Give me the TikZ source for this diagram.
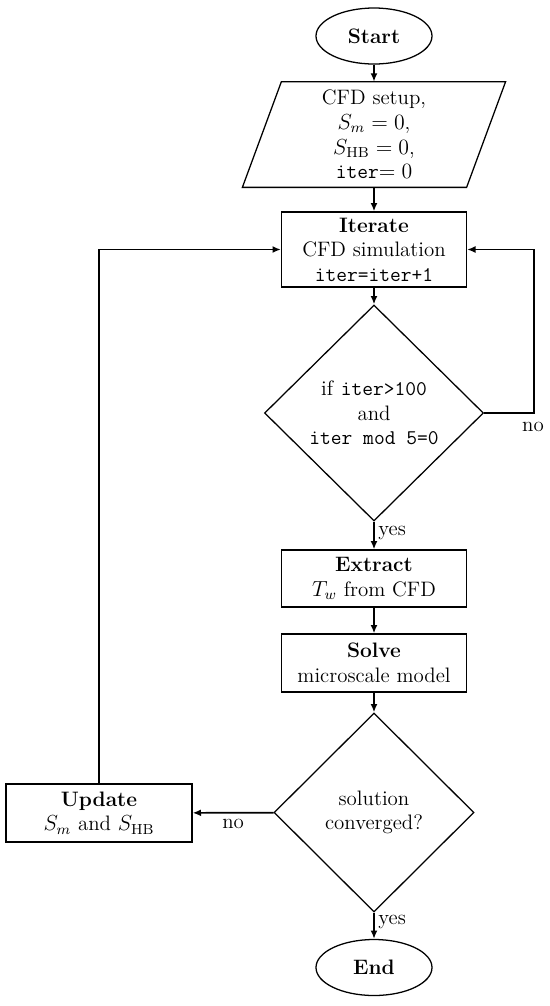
\documentclass[tikz,border=0pt]{standalone}
\usepackage{amsmath,amssymb}
\usepackage{xcolor}
\usepackage{tikz}
\usetikzlibrary{positioning,arrows.meta,shapes.geometric}
\newlength\px
\setlength\px{0.55pt}

\begin{document}
\begin{tikzpicture}[
  x=0.55pt, y=-0.55pt,
  every node/.style={font=\fontsize{11.5}{13.5}\selectfont},
  terminal/.style={draw, ellipse, line width=0.7pt, minimum width=116\px, minimum height=56\px, inner sep=0pt},
  process/.style={draw, rectangle, line width=0.7pt, minimum width=185\px, align=center, inner sep=2pt},
  decision/.style={draw, diamond, line width=0.7pt, align=center, inner sep=0pt},
  flow/.style={-{Latex[length=4.6pt, width=3.8pt]}, line width=0.9pt}
]
\useasboundingbox (0,0) rectangle (550,1006);

\node[terminal] (start) at (374,36) {\textbf{Start}};

\node[minimum width=223.5\px, minimum height=105\px, align=center, inner sep=0pt] (setup) at (374,134.5)
  {CFD setup,\\ $S_m=0$,\\ $S_{\mathrm{HB}}=0$,\\ \texttt{iter}$=0$};
\draw[line width=0.7pt] ([xshift=19.5\px]setup.north west) -- ([xshift=19.5\px]setup.north east)
  -- ([xshift=-19.5\px]setup.south east) -- ([xshift=-19.5\px]setup.south west) -- cycle;

\node[process, minimum height=75\px] (iterate) at (374,249.5)
  {\textbf{Iterate}\\ CFD simulation\\ \texttt{iter=iter+1}};

\node[decision, minimum width=219\px, minimum height=216\px] (check) at (374,413)
  {if \texttt{iter>100}\\ and\\ \texttt{iter mod 5=0}};

\node[process, minimum height=57\px] (extract) at (374,578.5)
  {\textbf{Extract}\\ $T_w$ from CFD};
\node[process, minimum height=58\px] (solve) at (374,663)
  {\textbf{Solve}\\ microscale model};

\node[decision, minimum width=200\px, minimum height=199\px] (conv) at (374,812.5)
  {solution\\ converged?};

\node[process, minimum width=186\px, minimum height=58\px] (update) at (99,813)
  {\textbf{Update}\\ $S_m$ and $S_{\mathrm{HB}}$};

\node[terminal] (end) at (374,967.5) {\textbf{End}};

% connectors
\draw[flow] (start) -- (setup);
\draw[flow] (setup) -- (iterate);
\draw[flow] (iterate) -- (check);
\coordinate (loop) at (534,413);
\draw[flow] (check.east) -- (loop) |- (iterate.east);
\node (nocheck) at (533,427) {no};
\draw[flow] (check) -- node[right, pos=0.4, inner sep=2pt] {yes} (extract);
\draw[flow] (extract) -- (solve);
\draw[flow] (solve) -- (conv);
\draw[flow] (conv) -- node[below, inner sep=3pt] {no} (update);
\draw[flow] (update.north) |- (iterate.west);
\draw[flow] (conv) -- node[right, pos=0.35, inner sep=2pt] {yes} (end);
\end{tikzpicture}
\end{document}
